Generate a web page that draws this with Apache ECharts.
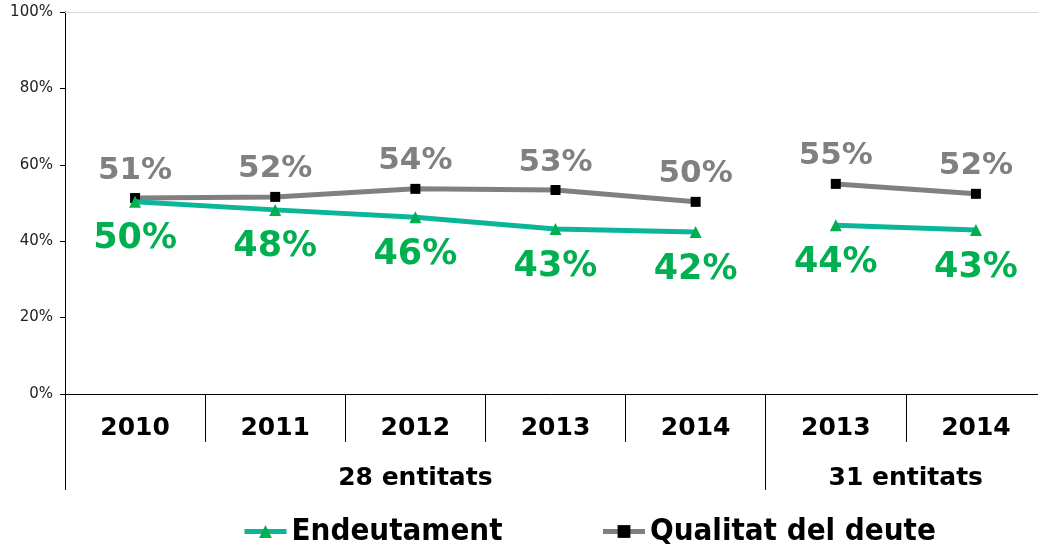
<!DOCTYPE html>
<html>
<head>
<meta charset="utf-8">
<script src="https://cdn.jsdelivr.net/npm/echarts@6/dist/echarts.min.js"></script>
<style>
html, body { margin: 0; padding: 0; background: #fff; }
#main { width: 1038px; height: 549px; }
</style>
</head>
<body>
<div id="main"></div>
<script>
const years = ['2010', '2011', '2012', '2013', '2014', '2013', '2014']
const groups = ['', '', '28 entitats', '', '', '31 entitats', '']
// 5 punts per a 28 entitats, 2 per a 31 entitats
const endeutament28 = [50.3, 48.2, 46.3, 43.2, 42.4, null, null]
const endeutament31 = [null, null, null, null, null, 44.2, 42.9]
const qualitat28 = [51.3, 51.6, 53.7, 53.4, 50.3, null, null]
const qualitat31 = [null, null, null, null, null, 55.0, 52.4]

const font = 'DejaVu Sans'
const pct = p => Math.round(p.value) + '%'

const endStyle = {
  type: 'line',
  name: 'Endeutament',
  symbol: 'triangle',
  symbolSize: 12,
  connectNulls: false,
  lineStyle: { color: '#0bb597', width: 5 },
  itemStyle: { color: '#00b050' },
  label: {
    show: true, position: 'bottom', distance: 14,
    formatter: pct, color: '#00b050', fontFamily: font, fontWeight: 'bold', fontSize: 35
  },
  z: 3
}
const qualStyle = {
  type: 'line',
  name: 'Qualitat del deute',
  symbol: 'rect',
  symbolSize: 10,
  connectNulls: false,
  lineStyle: { color: '#808080', width: 5 },
  itemStyle: { color: '#000' },
  label: {
    show: true, position: 'top', distance: 7,
    formatter: pct, color: '#808080', fontFamily: font, fontWeight: 'bold', fontSize: 31
  },
  z: 2
}

var myChart = echarts.init(document.getElementById('main'))

var option = {
  animation: false,
  grid: { left: 65, width: 981, top: 12, bottom: 155, containLabel: false, outerBoundsMode: 'none' },
  legend: {
    bottom: -3,
    left: 237,
    itemWidth: 42,
    itemHeight: 16,
    itemGap: 98,
    data: ['Endeutament', 'Qualitat del deute'],
    lineStyle: { width: 5 },
    textStyle: { fontFamily: 'DejaVu Sans Condensed', fontWeight: 'bold', fontSize: 31, color: '#000' }
  },
  xAxis: [
    {
      type: 'category',
      data: years,
      boundaryGap: true,
      axisLine: { lineStyle: { color: '#000', width: 1 } },
      axisTick: { show: true, interval: 0, length: 48, lineStyle: { color: '#000' } },
      axisLabel: { interval: 0, margin: 22, color: '#000', fontFamily: font, fontWeight: 'bold', fontSize: 25 }
    },
    {
      type: 'category',
      data: groups,
      position: 'bottom',
      offset: 48,
      boundaryGap: true,
      axisLine: { show: false },
      axisTick: {
        show: true, length: 48, lineStyle: { color: '#000' },
        interval: (i) => i === 0 || i === 5
      },
      axisLabel: {
        interval: 0, margin: 24, color: '#000', fontFamily: font, fontWeight: 'bold', fontSize: 25,
        formatter: (v, i) => i === 5 ? '{r|' + v + '}' : v,
        rich: { r: { padding: [0, 0, 0, 140], fontFamily: font, fontWeight: 'bold', fontSize: 25, color: '#000' } }
      }
    },
    {
      type: 'category',
      data: years,
      position: 'top',
      axisLine: { lineStyle: { color: '#d9d9d9' } },
      axisTick: { show: false },
      axisLabel: { show: false }
    }
  ],
  yAxis: {
    type: 'value',
    min: 0,
    max: 100,
    interval: 20,
    axisLine: { show: true, lineStyle: { color: '#000' } },
    axisTick: { show: true, length: 5, lineStyle: { color: '#000' } },
    splitLine: { show: false },
    axisLabel: { formatter: '{value}%', color: '#222', fontFamily: font, fontSize: 15, margin: 12 }
  },
  series: [
    Object.assign({ data: endeutament28 }, endStyle),
    Object.assign({ data: endeutament31 }, endStyle),
    Object.assign({ data: qualitat28 }, qualStyle),
    Object.assign({ data: qualitat31 }, qualStyle)
  ]
}

myChart.setOption(option)
</script>
</body>
</html>
